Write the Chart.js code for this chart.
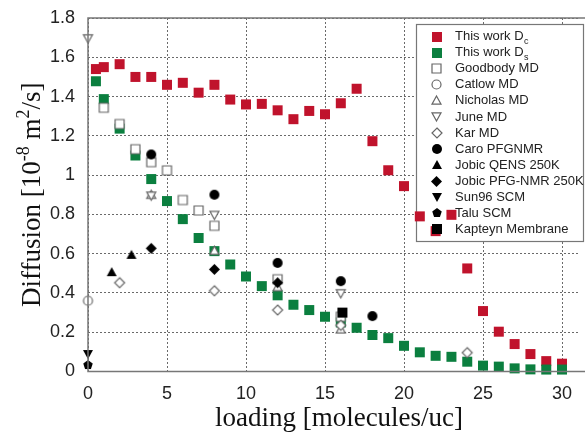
<!DOCTYPE html>
<html>
<head>
<meta charset="utf-8">
<script src="https://cdn.jsdelivr.net/npm/chart.js"></script>
<style>
  body { margin: 0; background: #fff; }
  #wrap { width: 585px; height: 435px; }
</style>
</head>
<body>
<div id="wrap"><canvas id="chart" width="585" height="435"></canvas></div>
<script>
// this work (loading in molecules/uc)
const loadingThisWork = [0.5, 1, 2, 3, 4, 5, 6, 7, 8, 9, 10, 11, 12, 13, 14, 15, 16, 17, 18, 19, 20, 21, 22, 23, 24, 25, 26, 27, 28, 29, 30];
const dcThisWork = [1.54, 1.55, 1.565, 1.50, 1.50, 1.46, 1.47, 1.42, 1.46, 1.385, 1.36, 1.363, 1.33, 1.285, 1.327, 1.31, 1.366, 1.44, 1.173, 1.025, 0.944, 0.79, 0.715, 0.798, 0.525, 0.308, 0.203, 0.14, 0.089, 0.053, 0.04];
const dsThisWork = [1.478, 1.387, 1.237, 1.10, 0.98, 0.868, 0.776, 0.68, 0.613, 0.545, 0.484, 0.435, 0.388, 0.34, 0.313, 0.279, 0.25, 0.223, 0.186, 0.17, 0.131, 0.098, 0.08, 0.075, 0.05, 0.03, 0.025, 0.016, 0.011, 0.01, 0.01];

// literature values
const goodbodyX = [1, 2, 3, 4, 5, 6, 7, 8, 12, 16];
const goodbodyY = [1.343, 1.26, 1.132, 1.066, 1.024, 0.873, 0.82, 0.742, 0.47, 0.279];
const catlowX = [0];
const catlowY = [0.36];
const nicholasX = [4, 8, 12, 16];
const nicholasY = [0.90, 0.615, 0.43, 0.215];
const juneX = [0, 4, 8, 16];
const juneY = [1.696, 0.895, 0.797, 0.398];
const karX = [2, 8, 12, 16, 24];
const karY = [0.452, 0.411, 0.313, 0.235, 0.096];
const caroX = [4, 8, 12, 16, 18];
const caroY = [1.105, 0.90, 0.553, 0.46, 0.282];
const jobicQensX = [1.5, 2.75];
const jobicQensY = [0.506, 0.594];
const jobicPfgX = [4, 8, 12];
const jobicPfgY = [0.627, 0.52, 0.452];
const sunX = [0];
const sunY = [0.089];
const taluX = [0];
const taluY = [0.033];
const kapteynX = [16.1];
const kapteynY = [0.30];

const xTicks = [0, 5, 10, 15, 20, 25, 30];
const yTicks = [0, 0.2, 0.4, 0.6, 0.8, 1, 1.2, 1.4, 1.6, 1.8];

const RED = '#c0132c';
const GREEN = '#0b7f3f';
const GRAY = '#666';

function makeMarker(shape, size, fill, stroke, lw) {
    const s = Math.ceil(size) + 6;
    const c = document.createElement('canvas');
    c.width = s;
    c.height = s;
    const g = c.getContext('2d');
    const m = s / 2, r = size / 2;
    g.beginPath();
    if (shape === 'square') {
        g.rect(m - r, m - r, size, size);
    } else if (shape === 'circle') {
        g.arc(m, m, r, 0, Math.PI * 2);
    } else if (shape === 'tri') {
        g.moveTo(m, m - r);
        g.lineTo(m + r, m + r * 0.8);
        g.lineTo(m - r, m + r * 0.8);
        g.closePath();
    } else if (shape === 'tridown') {
        g.moveTo(m, m + r);
        g.lineTo(m + r, m - r * 0.8);
        g.lineTo(m - r, m - r * 0.8);
        g.closePath();
    } else if (shape === 'diamond') {
        g.moveTo(m, m - r);
        g.lineTo(m + r, m);
        g.lineTo(m, m + r);
        g.lineTo(m - r, m);
        g.closePath();
    } else if (shape === 'pentagon') {
        for (let i = 0; i < 5; i++) {
            const a = -Math.PI / 2 + i * 2 * Math.PI / 5;
            const px = m + r * Math.cos(a), py = m + r * Math.sin(a);
            if (i === 0) g.moveTo(px, py); else g.lineTo(px, py);
        }
        g.closePath();
    }
    if (fill) {
        g.fillStyle = fill;
        g.fill();
    }
    if (stroke) {
        g.strokeStyle = stroke;
        g.lineWidth = lw;
        g.stroke();
    }
    return c;
}

function pts(xs, ys) {
    return xs.map((x, i) => ({ x: x, y: ys[i] }));
}

const series = [
    { label: 'This work D', sub: 'c', data: pts(loadingThisWork, dcThisWork), marker: makeMarker('square', 10, RED), order: 20 },
    { label: 'This work D', sub: 's', data: pts(loadingThisWork, dsThisWork), marker: makeMarker('square', 10, GREEN), order: 19 },
    { label: 'Goodbody MD', data: pts(goodbodyX, goodbodyY), marker: makeMarker('square', 9, '#fff', GRAY, 1.2), order: 10 },
    { label: 'Catlow MD', data: pts(catlowX, catlowY), marker: makeMarker('circle', 9, '#fff', GRAY, 1.2), order: 9 },
    { label: 'Nicholas MD', data: pts(nicholasX, nicholasY), marker: makeMarker('tri', 9, '#fff', GRAY, 1.2), order: 8 },
    { label: 'June MD', data: pts(juneX, juneY), marker: makeMarker('tridown', 9, '#fff', GRAY, 1.2), order: 7 },
    { label: 'Kar MD', data: pts(karX, karY), marker: makeMarker('diamond', 10, '#fff', GRAY, 1.2), order: 6 },
    { label: 'Caro PFGNMR', data: pts(caroX, caroY), marker: makeMarker('circle', 10, '#000'), order: 1 },
    { label: 'Jobic QENS 250K', data: pts(jobicQensX, jobicQensY), marker: makeMarker('tri', 10, '#000'), order: 2 },
    { label: 'Jobic PFG-NMR 250K', data: pts(jobicPfgX, jobicPfgY), marker: makeMarker('diamond', 11, '#000'), order: 3 },
    { label: 'Sun96 SCM', data: pts(sunX, sunY), marker: makeMarker('tridown', 10, '#000'), order: 4 },
    { label: 'Talu SCM', data: pts(taluX, taluY), marker: makeMarker('pentagon', 10, '#000'), order: 5 },
    { label: 'Kapteyn Membrane', data: pts(kapteynX, kapteynY), marker: makeMarker('square', 10, '#000'), order: 0 }
];

const box = { left: 416, top: 24, right: 583, bottom: 241 };

// the x axis runs off the right edge of the picture: 30 sits at x = 562
const fitX = {
    id: 'fitX',
    afterLayout(chart) {
        const sc = chart.scales.x;
        sc.max = 30 * (sc.right - sc.left) / (562 - sc.left);
        sc.configure();
    }
};

const legendBack = {
    id: 'legendBack',
    beforeDatasetsDraw(chart) {
        const ctx = chart.ctx;
        ctx.save();
        ctx.fillStyle = '#fff';
        ctx.fillRect(box.left, box.top, box.right - box.left, box.bottom - box.top);
        ctx.strokeStyle = '#777';
        ctx.lineWidth = 1.2;
        ctx.strokeRect(box.left + 0.5, box.top + 0.5, box.right - box.left, box.bottom - box.top);
        ctx.restore();
    }
};

const legendFront = {
    id: 'legendFront',
    afterDatasetsDraw(chart) {
        const ctx = chart.ctx;
        ctx.save();
        series.forEach((s, i) => {
            const y = 36.7 + i * 16.05;
            ctx.drawImage(s.marker, Math.round(436.7 - s.marker.width / 2), Math.round(y - s.marker.height / 2));
            ctx.fillStyle = '#222';
            ctx.font = '13px "Liberation Sans", Arial, sans-serif';
            ctx.textBaseline = 'middle';
            ctx.textAlign = 'left';
            ctx.fillText(s.label, 455, y);
            if (s.sub) {
                const w = ctx.measureText(s.label).width;
                ctx.font = '9px "Liberation Sans", Arial, sans-serif';
                ctx.fillText(s.sub, 455 + w + 0.5, y + 5);
            }
        });

        // frame round the plot
        const a = chart.chartArea;
        ctx.strokeStyle = '#777';
        ctx.lineWidth = 1.5;
        ctx.strokeRect(a.left, a.top, 600, a.bottom - a.top);

        // axis titles
        const serif = '"Liberation Serif", "Times New Roman", serif';
        ctx.fillStyle = '#111';
        ctx.textBaseline = 'alphabetic';
        ctx.textAlign = 'center';
        ctx.font = '27px ' + serif;
        ctx.fillText('loading [molecules/uc]', 339, 426);

        const parts = [
            ['Diffusion [10', 27, 0],
            ['-8', 18, -11],
            [' m', 27, 0],
            ['2', 18, -11],
            ['/s]', 27, 0]
        ];
        let total = 0;
        parts.forEach(p => {
            ctx.font = p[1] + 'px ' + serif;
            total += ctx.measureText(p[0]).width;
        });
        ctx.translate(40, (a.top + a.bottom) / 2);
        ctx.rotate(-Math.PI / 2);
        ctx.textAlign = 'left';
        let x = -total / 2;
        parts.forEach(p => {
            ctx.font = p[1] + 'px ' + serif;
            ctx.fillText(p[0], x, p[2]);
            x += ctx.measureText(p[0]).width;
        });
        ctx.restore();
    }
};

const ctx = document.getElementById('chart').getContext('2d');

new Chart(ctx, {
    type: 'scatter',
    data: {
        datasets: series.map(s => ({
            label: s.label,
            data: s.data,
            pointStyle: s.marker,
            pointRadius: 5,
            order: s.order,
            clip: false
        }))
    },
    options: {
        responsive: false,
        animation: false,
        events: [],
        layout: {
            padding: { left: 0, right: 0, top: 18, bottom: 0 }
        },
        plugins: {
            legend: { display: false },
            tooltip: { enabled: false }
        },
        scales: {
            x: {
                type: 'linear',
                min: 0,
                max: 31.45,
                afterFit(scale) {
                    scale.height = 63.5;
                    scale.paddingLeft = 0;
                    scale.paddingRight = 0;
                },
                afterBuildTicks(scale) { scale.ticks = xTicks.map(v => ({ value: v })); },
                border: { display: false, dash: [2, 2] },
                grid: {
                    color: '#6a6a6a',
                    lineWidth: 1,
                    drawTicks: false
                },
                ticks: {
                    padding: 12,
                    color: '#222',
                    font: { family: '"Liberation Sans", Arial, sans-serif', size: 18 }
                }
            },
            y: {
                min: 0,
                max: 1.8,
                afterFit(scale) {
                    scale.width = 88;
                    scale.paddingTop = 0;
                    scale.paddingBottom = 0;
                },
                afterBuildTicks(scale) { scale.ticks = yTicks.map(v => ({ value: v })); },
                border: { display: false, dash: [2, 2] },
                grid: {
                    color: '#6a6a6a',
                    lineWidth: 1,
                    drawTicks: false
                },
                ticks: {
                    padding: 13,
                    color: '#222',
                    font: { family: '"Liberation Sans", Arial, sans-serif', size: 18 },
                    callback: v => String(Number(v.toFixed(1)))
                }
            }
        }
    },
    plugins: [fitX, legendBack, legendFront]
});
</script>
</body>
</html>
